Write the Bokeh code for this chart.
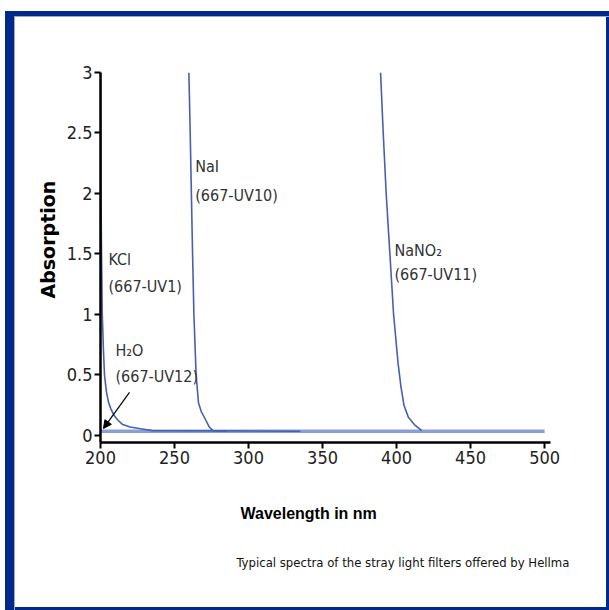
from bokeh.plotting import figure
from bokeh.models import (FixedTicker, Arrow, NormalHead, Title,
                          ColumnDataSource, Range1d)
from bokeh.core.properties import value
from bokeh.embed import file_html
from bokeh.resources import INLINE

# ---- data ----
kcl_nm = [200.0, 200.3, 200.7, 201.2, 202.0, 202.7, 204.0, 205.5, 207.0, 209.0, 211.5, 215.0, 220.0, 227.0, 235.0, 335.0]
kcl_abs = [3.0, 2.0, 1.5, 1.0, 0.7, 0.5, 0.36, 0.27, 0.22, 0.17, 0.13, 0.09, 0.07, 0.055, 0.04, 0.035]

nai_nm = [259.7, 260.6, 261.4, 262.2, 263.1, 264.6, 266.2, 268.0, 271.0, 273.5, 276.0, 285.0]
nai_abs = [3.0, 2.5, 2.0, 1.5, 1.0, 0.5, 0.27, 0.2, 0.13, 0.07, 0.04, 0.035]

nano2_nm = [389.2, 391.0, 393.0, 395.5, 398.0, 401.0, 403.0, 405.0, 408.0, 412.0, 417.0]
nano2_abs = [3.0, 2.5, 2.0, 1.5, 1.0, 0.6, 0.4, 0.25, 0.15, 0.09, 0.04]

h2o_nm = [200.0, 500.0]
h2o_abs = [0.035, 0.035]

x_ticks = [200, 250, 300, 350, 400, 450, 500]
x_tick_labels = ["200", "250", "300", "350", "400", "450", "500"]
y_ticks = [0, 0.5, 1, 1.5, 2, 2.5, 3]
y_tick_labels = ["0", "0.5", "1", "1.5", "2", "2.5", "3"]

label_text = ["NaI", "(667-UV10)", "KCl", "(667-UV1)", "H\u2082O", "(667-UV12)", "NaNO\u2082", "(667-UV11)"]
label_x = [264.0, 264.0, 205.4, 205.4, 210.1, 210.1, 398.6, 398.6]
label_y = [2.30, 2.06, 1.53, 1.31, 0.785, 0.562, 1.61, 1.41]

arrow_start = (219.6, 0.356)
arrow_end = (202.0, 0.058)

NARROW = "DejaVu Sans Condensed, Liberation Sans"
CURVE = "#4560b0"
FRAME = "#00298a"
FRAME_LIGHT = "#9aaad8"

p = figure(width=609, height=610, output_backend="svg", toolbar_location=None,
           x_range=Range1d(200, 504), y_range=Range1d(-0.058, 3.0),
           min_border_left=100, min_border_right=59, min_border_top=72, min_border_bottom=168)
p.grid.visible = False
p.outline_line_color = None
p.background_fill_color = "white"
p.border_fill_color = None

# outer blue frame drawn as inset shadows of the figure's box
p.styles = {
    "box-shadow": (f"inset 0 11px 0 0 white, inset 5px 0 0 0 white, "
                   f"inset 14px 0 0 0 {FRAME}, inset 0 16px 0 0 {FRAME}, "
                   f"inset 15px 0 0 0 {FRAME_LIGHT}, inset 0 17px 0 0 {FRAME_LIGHT}, "
                   f"inset -3px 0 0 0 {FRAME}, inset 0 -3px 0 0 {FRAME}"),
    "background-color": "white",
}

for ax, ticks, labels in ((p.xaxis, x_ticks, x_tick_labels), (p.yaxis, y_ticks, y_tick_labels)):
    ax.ticker = FixedTicker(ticks=ticks)
    ax.major_label_overrides = {t: l for t, l in zip(ticks, labels)}
    ax.axis_line_width = 2.5
    ax.axis_line_color = "black"
    ax.major_tick_line_width = 2
    ax.major_tick_line_color = "black"
    ax.major_tick_out = 6
    ax.major_tick_in = 0
    ax.minor_tick_line_color = None
    ax.major_label_text_font = NARROW
    ax.major_label_text_font_size = "18px"
    ax.major_label_text_color = "#222222"
    ax.major_label_standoff = 2

# curves
p.line(h2o_nm, h2o_abs, line_color="#8c9fd4", line_width=3.5)
p.line(kcl_nm, kcl_abs, line_color=CURVE, line_width=1.6)
p.line(nai_nm, nai_abs, line_color=CURVE, line_width=1.6)
p.line(nano2_nm, nano2_abs, line_color=CURVE, line_width=1.6)

# curve labels
src = ColumnDataSource(dict(x=label_x, y=label_y, t=label_text))
p.text(x="x", y="y", text="t", source=src, text_font=value(NARROW), text_font_size="16px",
       text_color="#333333", text_baseline="top", text_align="left")

p.add_layout(Arrow(end=NormalHead(size=8, fill_color="black", line_color="black"),
                   x_start=arrow_start[0], y_start=arrow_start[1],
                   x_end=arrow_end[0], y_end=arrow_end[1],
                   line_color="black", line_width=1.2))

# axis titles and caption
p.add_layout(Title(text="Absorption", align="left", offset=144, standoff=10,
                   text_font="DejaVu Sans", text_font_style="bold", text_font_size="19px",
                   text_color="black"), "left")
p.add_layout(Title(text="Wavelength in nm", align="left", offset=140, standoff=73,
                   text_font="Liberation Sans", text_font_style="bold", text_font_size="16px",
                   text_color="black"), "below")
p.add_layout(Title(text="Typical spectra of the stray light filters offered by Hellma",
                   align="left", offset=136, standoff=-12,
                   text_font=NARROW, text_font_size="13px", text_font_style="normal",
                   text_color="#111111"), "below")

open("out.html", "w").write(file_html(p, INLINE))
